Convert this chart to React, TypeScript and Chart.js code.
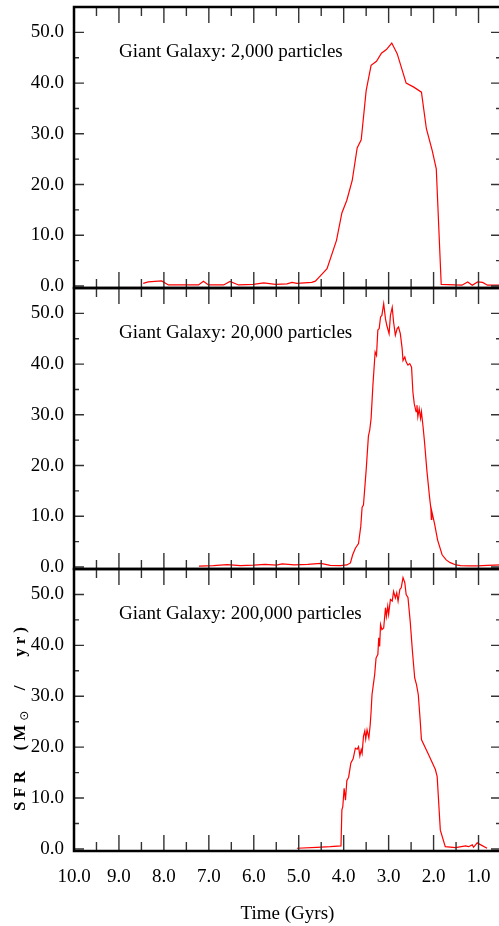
import React, { useEffect, useRef } from 'react';
import { Chart, registerables } from 'chart.js';

Chart.register(...registerables);

// ---- tick labels ----
const X_TICKS = [10, 9, 8, 7, 6, 5, 4, 3, 2, 1];
const X_MINOR = [9.5, 8.5, 7.5, 6.5, 5.5, 4.5, 3.5, 2.5, 1.5, 0.5];
const Y_TICKS = [0, 10, 20, 30, 40, 50];
const Y_MINOR = [5, 15, 25, 35, 45];

const PANEL_LABELS = [
  'Giant Galaxy: 2,000 particles',
  'Giant Galaxy: 20,000 particles',
  'Giant Galaxy: 200,000 particles',
];
const X_TITLE = 'Time (Gyrs)';

// ---- series: 2,000 particles ----
const TIME_2K = [
  8.46, 8.35, 8.05, 7.9, 7.53, 7.23, 7.12, 7.01, 6.67, 6.53, 6.34, 6.01, 5.78, 5.52, 5.26, 5.15,
  5.04, 4.71, 4.63, 4.54, 4.37, 4.16, 4.04, 3.93, 3.81, 3.7, 3.61, 3.5, 3.39, 3.27, 3.16, 3.05,
  2.93, 2.81, 2.61, 2.44, 2.27, 2.16, 2.03, 1.94, 1.83, 1.37, 1.24, 1.14, 1.02, 0.91, 0.8, 0.5,
];
const SFR_2K = [
  0.5, 0.8, 1.0, 0.2, 0.2, 0.2, 0.95, 0.2, 0.2, 0.9, 0.2, 0.3, 0.6, 0.3, 0.4, 0.7,
  0.5, 0.7, 0.95, 1.8, 3.4, 9.0, 14.4, 16.9, 20.8, 27.2, 28.8, 38.5, 43.5, 44.3, 45.9, 46.6,
  47.9, 45.8, 40.0, 39.2, 38.2, 31.0, 26.7, 23.1, 0.3, 0.15, 0.8, 0.15, 0.8, 0.7, 0.15, 0.15,
];

// ---- series: 20,000 particles ----
const TIME_20K = [
  7.22, 6.9, 6.59, 6.3, 6.0, 5.75, 5.5, 5.37, 5.1, 4.8, 4.51, 4.3, 4.07, 3.93, 3.85, 3.8,
  3.74, 3.67, 3.62, 3.59, 3.56, 3.5, 3.45, 3.42, 3.39, 3.35, 3.3, 3.27, 3.24, 3.21, 3.18, 3.15,
  3.11, 3.07, 3.04, 2.99, 2.96, 2.92, 2.89, 2.85, 2.81, 2.78, 2.74, 2.7, 2.68, 2.64, 2.61, 2.57,
  2.53, 2.49, 2.46, 2.43, 2.39, 2.37, 2.35, 2.32, 2.29, 2.27, 2.23, 2.2, 2.15, 2.09, 2.06, 2.05,
  2.04, 1.98, 1.91, 1.81, 1.72, 1.63, 1.5, 1.4, 1.2, 1.03, 0.8, 0.5,
];
const SFR_20K = [
  0.15, 0.25, 0.45, 0.25, 0.35, 0.5, 0.35, 0.6, 0.4, 0.5, 0.7, 0.3, 0.25, 0.4, 0.8, 2.4,
  3.7, 4.6, 8.0, 11.8, 12.2, 19.1, 25.8, 27.0, 29.3, 35.8, 42.4, 41.7, 46.7, 47.0, 49.3, 49.6,
  51.9, 48.9, 47.6, 46.0, 49.6, 51.2, 48.3, 45.7, 47.0, 47.3, 46.0, 43.1, 40.7, 41.4, 40.4, 39.8,
  40.1, 39.4, 34.5, 32.2, 30.6, 31.9, 29.6, 31.2, 29.3, 30.6, 27.3, 24.5, 19.1, 13.8, 11.5, 9.4,
  11.0, 8.6, 5.3, 2.4, 1.4, 0.85, 0.4, 0.25, 0.2, 0.2, 0.3, 0.4,
];

// ---- series: 200,000 particles ----
const TIME_200K = [
  5.04, 4.6, 4.3, 4.06, 4.04, 4.02, 3.99, 3.96, 3.93, 3.89, 3.84, 3.79, 3.74, 3.7, 3.67, 3.64,
  3.61, 3.59, 3.56, 3.53, 3.51, 3.48, 3.44, 3.41, 3.39, 3.37, 3.31, 3.28, 3.24, 3.22, 3.2, 3.18,
  3.15, 3.11, 3.07, 3.05, 3.02, 3.0, 2.96, 2.92, 2.89, 2.85, 2.82, 2.79, 2.75, 2.72, 2.68, 2.64,
  2.61, 2.57, 2.52, 2.47, 2.42, 2.38, 2.34, 2.3, 2.27, 2.11, 1.96, 1.92, 1.85, 1.74, 1.51, 1.29,
  1.22, 1.14, 1.11, 1.03, 0.97, 0.81,
];
const SFR_200K = [
  0.14, 0.33, 0.45, 0.6, 7.7, 8.3, 11.9, 9.6, 13.4, 14.1, 16.9, 17.7, 19.8, 19.6, 20.1, 18.3,
  19.5, 18.8, 22.1, 23.2, 21.6, 23.4, 21.8, 24.4, 27.0, 30.3, 34.3, 37.5, 38.2, 41.5, 39.8, 44.1,
  43.1, 43.4, 47.4, 45.7, 47.7, 46.1, 49.0, 48.7, 50.6, 49.3, 50.3, 48.7, 51.0, 51.3, 53.3, 52.3,
  50.0, 49.4, 44.7, 38.8, 33.6, 32.3, 30.3, 25.5, 21.5, 18.5, 15.6, 14.2, 3.7, 0.45, 0.26, 0.6,
  0.45, 0.8, 0.33, 1.2, 0.9, 0.14,
];

const SERIES = [
  { time: TIME_2K, sfr: SFR_2K },
  { time: TIME_20K, sfr: SFR_20K },
  { time: TIME_200K, sfr: SFR_200K },
];

const FONT_FAMILY = '"Liberation Serif", "Times New Roman", serif';

type PanelProps = {
  index: number;
  top: number;
  height: number;
  padTop: number;
  padBottom: number;
  isBottom: boolean;
};

function Panel({ index, top, height, padTop, padBottom, isBottom }: PanelProps) {
  const ref = useRef<HTMLCanvasElement | null>(null);

  useEffect(() => {
    const canvas = ref.current;
    if (!canvas) return;
    const { time, sfr } = SERIES[index];
    const label = PANEL_LABELS[index];

    const framePlugin = {
      id: 'frameTicks',
      afterDraw(chart: any) {
        const { ctx, chartArea } = chart;
        const { left, right, top: t, bottom: b } = chartArea;
        const xs = chart.scales.x;
        const ys = chart.scales.y;
        ctx.save();
        // tick marks, inside, on all four sides
        ctx.strokeStyle = '#333';
        ctx.lineWidth = 1.4;
        ctx.beginPath();
        const xTick = (v: number, len: number) => {
          const px = xs.getPixelForValue(v);
          ctx.moveTo(px, b);
          ctx.lineTo(px, b - len);
          ctx.moveTo(px, t);
          ctx.lineTo(px, t + len);
        };
        const yTick = (v: number, len: number) => {
          const py = ys.getPixelForValue(v);
          ctx.moveTo(left, py);
          ctx.lineTo(left + len, py);
          ctx.moveTo(right, py);
          ctx.lineTo(right - len, py);
        };
        X_TICKS.forEach((v) => xTick(v, 16));
        X_MINOR.forEach((v) => xTick(v, 9));
        Y_TICKS.forEach((v) => yTick(v, 10));
        Y_MINOR.forEach((v) => yTick(v, 5));
        ctx.stroke();
        // frame
        ctx.strokeStyle = '#000';
        ctx.lineWidth = 2.5;
        ctx.strokeRect(left, t, right - left, b - t);
        // panel label
        ctx.fillStyle = '#000';
        ctx.font = `19px ${FONT_FAMILY}`;
        ctx.textAlign = 'left';
        ctx.textBaseline = 'alphabetic';
        ctx.fillText(label, left + 45, t + 50);
        // y-axis title on the bottom panel
        if (isBottom) {
          const cx = 21;
          const cy = (t + b) / 2 + 7;
          const mainFont = `bold 17px ${FONT_FAMILY}`;
          const subFont = `12px "DejaVu Sans", ${FONT_FAMILY}`;
          const p1 = 'SFR  (M';
          const p2 = '\u2299';
          const p3 = '  /   yr)';
          ctx.translate(cx, cy);
          ctx.rotate(-Math.PI / 2);
          (ctx as any).letterSpacing = '4px';
          ctx.textBaseline = 'middle';
          ctx.font = mainFont;
          const w1 = ctx.measureText(p1).width;
          const w3 = ctx.measureText(p3).width;
          ctx.font = subFont;
          const w2 = ctx.measureText(p2).width;
          let x0 = -(w1 + w2 + w3) / 2;
          ctx.font = mainFont;
          ctx.fillText(p1, x0, 0);
          x0 += w1;
          ctx.font = subFont;
          ctx.fillText(p2, x0, 4);
          x0 += w2;
          ctx.font = mainFont;
          ctx.fillText(p3, x0, 0);
        }
        ctx.restore();
      },
    };

    const tickFont = { family: FONT_FAMILY, size: 19 };

    const chart = new Chart(canvas, {
      type: 'line',
      data: {
        datasets: [
          {
            data: time.map((tv, i) => ({ x: tv, y: sfr[i] })),
            borderColor: 'rgb(255,0,0)',
            borderWidth: 1.2,
            pointRadius: 0,
            tension: 0,
            fill: false,
          },
        ],
      },
      options: {
        animation: false,
        responsive: false,
        maintainAspectRatio: false,
        devicePixelRatio: 1,
        layout: { padding: { top: padTop, bottom: padBottom, left: 0, right: 0 } },
        plugins: {
          legend: { display: false },
          tooltip: { enabled: false },
        },
        scales: {
          x: {
            type: 'linear',
            reverse: true,
            min: 0.5,
            max: 10,
            display: isBottom,
            grid: { display: false, drawTicks: false },
            border: { display: false },
            afterBuildTicks: (s: any) => {
              s.ticks = X_TICKS.map((v) => ({ value: v }));
            },
            ticks: {
              padding: 15,
              color: '#000',
              font: tickFont,
              maxRotation: 0,
              autoSkip: false,
              callback: (v: any) => Number(v).toFixed(1),
            },
            title: {
              display: isBottom,
              text: X_TITLE,
              color: '#000',
              font: tickFont,
              padding: { top: 0, bottom: 1 },
            },
            afterFit: (s: any) => {
              if (isBottom) s.height = 75;
              s.paddingLeft = 0;
              s.paddingRight = 0;
            },
          },
          y: {
            type: 'linear',
            min: -0.4,
            max: 55,
            grid: { display: false, drawTicks: false },
            border: { display: false },
            afterBuildTicks: (s: any) => {
              s.ticks = Y_TICKS.map((v) => ({ value: v }));
            },
            ticks: {
              padding: 10,
              color: '#000',
              font: tickFont,
              callback: (v: any) => Number(v).toFixed(1),
            },
            afterFit: (s: any) => {
              s.width = 74;
              s.paddingTop = 0;
              s.paddingBottom = 0;
            },
          },
        },
      },
      plugins: [framePlugin],
    } as any);

    return () => chart.destroy();
  }, [index, isBottom, padTop, padBottom]);

  return (
    <canvas
      ref={ref}
      width={501}
      height={height}
      style={{ position: 'absolute', left: 0, top, width: 501, height, display: 'block' }}
    />
  );
}

export default function App() {
  return (
    <div
      style={{
        position: 'absolute',
        left: 0,
        top: 0,
        width: 499,
        height: 926,
        overflow: 'hidden',
        background: '#fff',
      }}
    >
      <Panel index={0} top={0} height={300} padTop={7} padBottom={12} isBottom={false} />
      <Panel index={1} top={276} height={305} padTop={12} padBottom={12} isBottom={false} />
      <Panel index={2} top={557} height={369} padTop={12} padBottom={0} isBottom={true} />
    </div>
  );
}
